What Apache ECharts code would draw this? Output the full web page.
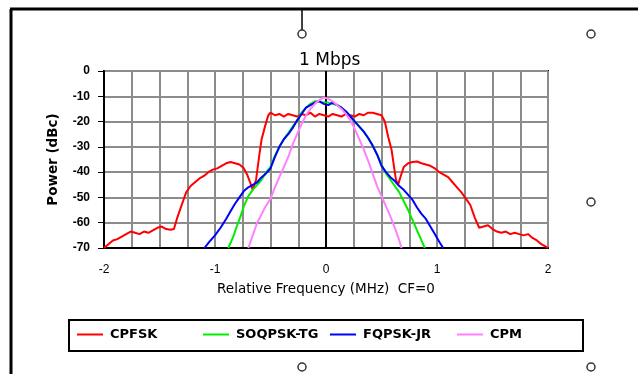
<!DOCTYPE html>
<html>
<head>
<meta charset="utf-8">
<script src="https://cdn.jsdelivr.net/npm/echarts@6/dist/echarts.min.js"></script>
<style>html,body{margin:0;padding:0;background:#fff;}#c{width:638px;height:374px;}</style>
</head>
<body>
<div id="c"></div>
<script>
const seriesNames = ['CPFSK', 'SOQPSK-TG', 'FQPSK-JR', 'CPM'];
const xTickLabels = ['-2', '-1', '0', '1', '2'];

const cpfskX = [-2.00,-1.96,-1.92,-1.88,-1.84,-1.80,-1.76,-1.72,-1.68,-1.64,-1.60,-1.56,-1.52,-1.48,-1.44,-1.40,-1.37,-1.34,-1.30,-1.26,-1.22,-1.18,-1.14,-1.10,-1.06,-1.02,-0.98,-0.94,-0.90,-0.86,-0.82,-0.78,-0.74,-0.71,-0.68,-0.66,-0.65,-0.63,-0.60,-0.58,-0.55,-0.52,-0.50,-0.46,-0.42,-0.38,-0.34,-0.30,-0.26,-0.22,-0.18,-0.14,-0.10,-0.06,-0.02,0.02,0.06,0.10,0.14,0.18,0.22,0.26,0.30,0.34,0.38,0.42,0.46,0.50,0.53,0.56,0.59,0.61,0.63,0.65,0.67,0.70,0.74,0.78,0.82,0.86,0.90,0.94,0.98,1.02,1.06,1.10,1.14,1.18,1.22,1.26,1.30,1.34,1.38,1.42,1.46,1.50,1.54,1.58,1.62,1.66,1.70,1.74,1.78,1.82,1.86,1.90,1.94,1.98,2.00];
const cpfskY = [-70,-68.5,-67,-66.5,-65.5,-64.5,-63.5,-64,-64.5,-63.5,-64,-63,-62,-61.5,-62.5,-62.8,-62.5,-58,-53,-48,-45.5,-44,-42.5,-41.5,-40,-39,-38.5,-37.5,-36.5,-36,-36.5,-37,-38.5,-41,-44.5,-47,-47.5,-43,-33,-27,-22,-17.5,-16.5,-17.5,-17,-18,-17,-17.5,-18,-17,-17.5,-16.5,-18,-17,-17.5,-18,-17,-17.5,-18,-17,-17.5,-18,-17,-17.5,-16.5,-16.5,-17,-17.5,-20,-26,-31,-37,-43,-45,-42,-38,-36.5,-36,-35.8,-36.5,-37,-37.5,-38.5,-40,-41,-42,-44,-46,-48,-50.5,-53,-58,-62,-61.5,-61,-62.5,-63.5,-64,-63.5,-64.5,-64,-64.5,-65,-64.5,-66,-67,-68.5,-69.5,-70];

const soqpskX = [-0.88,-0.84,-0.80,-0.77,-0.74,-0.70,-0.66,-0.62,-0.58,-0.54,-0.50,-0.46,-0.42,-0.38,-0.34,-0.30,-0.26,-0.22,-0.18,-0.14,-0.10,-0.06,-0.02,0.02,0.06,0.10,0.14,0.18,0.22,0.26,0.30,0.34,0.38,0.42,0.46,0.50,0.54,0.58,0.62,0.66,0.70,0.74,0.78,0.82,0.86,0.89];
const soqpskY = [-70,-66,-61,-57.5,-53.5,-49.5,-47,-45,-43,-40,-38,-33.5,-30,-27,-24.5,-22,-19.5,-16.5,-14.5,-13,-12,-12,-12.5,-12.5,-13,-13.5,-14.5,-16,-18,-20,-22,-24,-26.5,-29.5,-33,-37,-40.5,-43,-45.5,-48,-51.5,-55,-59,-63,-67,-70];

const fqpskX = [-1.095,-1.05,-1.00,-0.95,-0.90,-0.86,-0.82,-0.78,-0.74,-0.70,-0.66,-0.62,-0.58,-0.54,-0.50,-0.46,-0.42,-0.38,-0.34,-0.30,-0.26,-0.22,-0.18,-0.14,-0.10,-0.06,-0.02,0.02,0.06,0.10,0.14,0.18,0.22,0.26,0.30,0.34,0.38,0.42,0.46,0.50,0.54,0.58,0.62,0.66,0.70,0.74,0.78,0.82,0.86,0.90,0.94,0.98,1.02,1.056];
const fqpskY = [-70,-67.5,-65,-62,-58.5,-55.5,-52.5,-50,-47.5,-46,-45,-44,-42,-40.5,-38.5,-34,-30,-27,-25,-22.5,-19.5,-17,-14.5,-13.5,-12.5,-12,-13,-13.5,-12.5,-13.5,-14.5,-16,-18,-20,-22,-24,-26.5,-29.5,-33,-37.5,-40,-42,-43.5,-45.5,-47,-49,-51,-54,-56.5,-58.5,-61.5,-64.5,-67.5,-70];

const cpmX = [-0.70,-0.66,-0.62,-0.59,-0.55,-0.50,-0.46,-0.42,-0.38,-0.34,-0.30,-0.26,-0.22,-0.18,-0.14,-0.10,-0.06,-0.02,0.02,0.06,0.10,0.14,0.18,0.22,0.26,0.30,0.34,0.38,0.42,0.46,0.50,0.54,0.58,0.62,0.66,0.68];
const cpmY = [-70,-65,-60,-57.5,-54,-50.5,-46,-42,-38,-34,-29,-25,-21,-17.5,-15,-13,-11.5,-10.5,-11,-12,-13.5,-15,-17,-19.5,-23,-27,-31,-35.5,-40.5,-45.5,-49.5,-53.5,-57.5,-62,-67,-70];

const colors = ['#ff0000', '#00ee00', '#0000ff', '#ff80ff'];
const xs = [cpfskX, soqpskX, fqpskX, cpmX];
const ys = [cpfskY, soqpskY, fqpskY, cpmY];
const legendLeft = [77, 203, 330, 457];

function pairs(x, y) { return x.map((v, i) => [v, y[i]]); }

const series = seriesNames.map((name, k) => ({
  name: name,
  type: 'line',
  data: pairs(xs[k], ys[k]),
  showSymbol: false,
  symbol: 'none',
  lineStyle: { color: colors[k], width: 2 },
  itemStyle: { color: colors[k] },
  z: 3 + k,
  silent: true
}));
series[0].markLine = {
  silent: true, symbol: 'none', label: { show: false },
  lineStyle: { color: '#000', width: 2, type: 'solid' },
  data: [{ xAxis: 0 }], z: 2
};

const legends = seriesNames.map((name, k) => ({
  left: legendLeft[k], top: 328, padding: 0,
  itemWidth: 26, itemHeight: 2, icon: 'rect', selectedMode: false,
  data: [name],
  textStyle: { fontFamily: 'DejaVu Sans', fontSize: 13, fontWeight: 'bold', color: '#000', padding: [0, 0, 0, 2] }
}));

const chart = echarts.init(document.getElementById('c'), null, { renderer: 'canvas' });
chart.setOption({
  animation: false,
  backgroundColor: '#ffffff',
  title: {
    text: '1 Mbps', left: 294, top: 47,
    textStyle: { fontFamily: 'DejaVu Sans', fontSize: 17, fontWeight: 'normal', color: '#000' }
  },
  grid: { left: 104, right: 90, top: 71, bottom: 126, show: true, borderColor: '#000', borderWidth: 2, backgroundColor: '#fff' },
  xAxis: {
    type: 'value', min: -2, max: 2, interval: 0.25,
    name: 'Relative Frequency (MHz)  CF=0', nameLocation: 'middle', nameGap: 34,
    nameTextStyle: { fontFamily: 'DejaVu Sans', fontSize: 13.5, color: '#000' },
    axisLine: { onZero: false, lineStyle: { color: '#000', width: 2 } },
    axisTick: { show: false },
    axisLabel: {
      fontFamily: 'Arial', fontSize: 12, color: '#000', margin: 16,
      formatter: v => (Math.abs(v - Math.round(v)) < 1e-9 ? xTickLabels[Math.round(v) + 2] : '')
    },
    splitLine: { lineStyle: { color: '#8c8c8c', width: 2 } }
  },
  yAxis: {
    type: 'value', min: -70, max: 0, interval: 10,
    name: 'Power (dBc)', nameLocation: 'middle', nameGap: 44,
    nameTextStyle: { fontFamily: 'DejaVu Sans', fontSize: 13.5, color: '#000', fontWeight: 'bold' },
    axisLine: { onZero: false, lineStyle: { color: '#000', width: 2 } },
    axisTick: { show: true, length: 6, lineStyle: { color: '#000', width: 1 } },
    axisLabel: { fontFamily: 'Arial', fontSize: 12, color: '#000', fontWeight: 'bold', margin: 14 },
    splitLine: { lineStyle: { color: '#8c8c8c', width: 2 } }
  },
  legend: legends,
  graphic: [
    { type: 'rect', shape: { x: 69, y: 320, width: 514, height: 31 }, style: { fill: 'none', stroke: '#000', lineWidth: 2 } },
    { type: 'line', shape: { x1: 10, y1: 9, x2: 638, y2: 9 }, style: { stroke: '#000', lineWidth: 3 } },
    { type: 'line', shape: { x1: 11, y1: 9, x2: 11, y2: 374 }, style: { stroke: '#000', lineWidth: 3 } },
    { type: 'line', shape: { x1: 302, y1: 9, x2: 302, y2: 30 }, style: { stroke: '#000', lineWidth: 1.5 } },
    { type: 'circle', shape: { cx: 302, cy: 34, r: 4 }, style: { fill: '#fff', stroke: '#333', lineWidth: 1.5 } },
    { type: 'circle', shape: { cx: 591, cy: 34, r: 4 }, style: { fill: '#fff', stroke: '#333', lineWidth: 1.5 } },
    { type: 'circle', shape: { cx: 591, cy: 202, r: 4 }, style: { fill: '#fff', stroke: '#333', lineWidth: 1.5 } },
    { type: 'circle', shape: { cx: 302, cy: 367, r: 4 }, style: { fill: '#fff', stroke: '#333', lineWidth: 1.5 } },
    { type: 'circle', shape: { cx: 591, cy: 367, r: 4 }, style: { fill: '#fff', stroke: '#333', lineWidth: 1.5 } }
  ],
  series: series
});
</script>
</body>
</html>
